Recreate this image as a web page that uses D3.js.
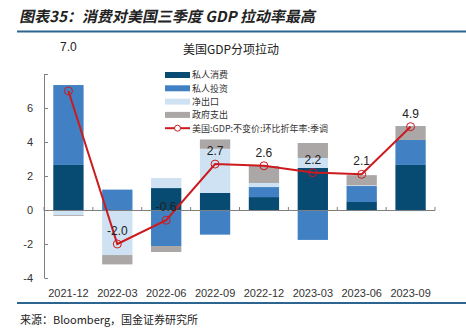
<!DOCTYPE html>
<html lang="zh">
<head>
<meta charset="UTF-8">
<title>美国GDP分项拉动</title>
<script src="https://d3js.org/d3.v7.min.js"></script>
<style>
  body { margin: 0; background: #fff; }
  text { font-family: "Liberation Sans", Arial, sans-serif; }
  .cjk { font-family: "Noto Sans CJK SC", sans-serif; }
</style>
</head>
<body>
<svg width="466" height="328"></svg>
<script>
// quarters and contribution of each component (pp, SAAR)
const quarters = ["2021-12", "2022-03", "2022-06", "2022-09", "2022-12", "2023-03", "2023-06", "2023-09"];
const consumption = [2.65, 0, 1.29, 1.0, 0.76, 2.47, 0.47, 2.65];
const investment = [4.7, 1.2, -2.12, -1.45, 0.59, -1.76, 0.94, 1.47];
const netExports = [-0.3, -2.65, 0.59, 2.6, 0.24, 0.59, 0.04, -0.08];
const government = [-0.05, -0.55, -0.35, 0.55, 1.0, 0.88, 0.6, 0.82];
const gdp = [7.0, -2.0, -0.6, 2.7, 2.6, 2.2, 2.1, 4.9];
const yTicks = [-4, -2, 0, 2, 4, 6, 8];

const seriesNames = ["私人消费", "私人投资", "净出口", "政府支出"];
const colors = ["#074a72", "#4180c2", "#cfe2f3", "#aba7a7"];
const lineColor = "#cc1a1f";

const svg = d3.select("svg");

// header
svg.append("text")
  .attr("class", "cjk")
  .attr("x", 20).attr("y", 22)
  .attr("font-size", 15).attr("font-weight", "bold")
  .attr("fill", "#222")
  .attr("transform", "skewX(-12) translate(4,0)")
  .text("图表35：消费对美国三季度 GDP 拉动率最高");
svg.append("line")
  .attr("x1", 17).attr("x2", 466).attr("y1", 31.5).attr("y2", 31.5)
  .attr("stroke", "#2b6590").attr("stroke-width", 2);
svg.append("line")
  .attr("x1", 17).attr("x2", 466).attr("y1", 303).attr("y2", 303)
  .attr("stroke", "#2b6590").attr("stroke-width", 2);
svg.append("text")
  .attr("class", "cjk")
  .attr("x", 20).attr("y", 324)
  .attr("font-size", 11).attr("fill", "#222")
  .text("来源：Bloomberg，国金证券研究所");

// scales
const x = d3.scaleBand().domain(quarters).range([44, 435])
  .paddingInner(0.38).paddingOuter(0.19);
const y = d3.scaleLinear().domain([-4, 8]).range([278, 74]);

const rows = quarters.map((q, i) => ({
  q, c: consumption[i], inv: investment[i], ne: netExports[i], gov: government[i]
}));
const stack = d3.stack().keys(["c", "inv", "ne", "gov"]).offset(d3.stackOffsetDiverging);
const layers = stack(rows);

// bars
svg.append("g").selectAll("g")
  .data(layers)
  .join("g")
  .attr("fill", (d, i) => colors[i])
  .selectAll("rect")
  .data(d => d)
  .join("rect")
  .attr("x", d => x(d.data.q))
  .attr("width", x.bandwidth())
  .attr("y", d => y(Math.max(d[0], d[1])))
  .attr("height", d => Math.abs(y(d[0]) - y(d[1])));

// axes
const axisColor = "#7f7f7f";
svg.append("line")
  .attr("x1", 44.5).attr("x2", 44.5).attr("y1", y(8)).attr("y2", y(-4))
  .attr("stroke", axisColor);
svg.append("g").selectAll("line")
  .data(yTicks)
  .join("line")
  .attr("x1", 44.5).attr("x2", 48)
  .attr("y1", d => Math.round(y(d)) + 0.5).attr("y2", d => Math.round(y(d)) + 0.5)
  .attr("stroke", axisColor);
svg.append("g").selectAll("text")
  .data(yTicks.filter(d => d < 8))
  .join("text")
  .attr("x", 33).attr("y", d => y(d) + 4)
  .attr("text-anchor", "end").attr("font-size", 11).attr("fill", "#333")
  .text(d => d);

svg.append("line")
  .attr("x1", 44).attr("x2", 435).attr("y1", Math.round(y(0)) + 0.5).attr("y2", Math.round(y(0)) + 0.5)
  .attr("stroke", axisColor);
const step = x.step();
svg.append("g").selectAll("line")
  .data(d3.range(quarters.length + 1))
  .join("line")
  .attr("x1", i => 44 + i * step).attr("x2", i => 44 + i * step)
  .attr("y1", Math.round(y(0)) + 0.5).attr("y2", Math.round(y(0)) - 3)
  .attr("stroke", axisColor);
svg.append("g").selectAll("text")
  .data(quarters)
  .join("text")
  .attr("x", d => x(d) + x.bandwidth() / 2).attr("y", 297)
  .attr("text-anchor", "middle").attr("font-size", 11).attr("fill", "#333")
  .text(d => d);

// GDP line
const pts = quarters.map((q, i) => [x(q) + x.bandwidth() / 2, y(gdp[i])]);
svg.append("path")
  .attr("d", d3.line()(pts))
  .attr("fill", "none").attr("stroke", lineColor).attr("stroke-width", 2);
svg.append("g").selectAll("circle")
  .data(pts)
  .join("circle")
  .attr("cx", d => d[0]).attr("cy", d => d[1]).attr("r", 4)
  .attr("fill", "none").attr("stroke", lineColor).attr("stroke-width", 1);
svg.append("g").selectAll("text")
  .data(gdp)
  .join("text")
  .attr("x", (d, i) => pts[i][0])
  .attr("y", (d, i) => pts[i][1] - (i === 0 ? 40 : 9))
  .attr("text-anchor", "middle").attr("font-size", 12).attr("fill", "#222")
  .text(d => d.toFixed(1));

// chart title
svg.append("text")
  .attr("class", "cjk")
  .attr("x", 231).attr("y", 54)
  .attr("text-anchor", "middle").attr("font-size", 12).attr("fill", "#222")
  .text("美国GDP分项拉动");

// legend
const rowGap = 13.3;
const legend = svg.append("g").attr("transform", "translate(165,75)");
seriesNames.forEach((name, i) => {
  const g = legend.append("g").attr("transform", `translate(0,${i * rowGap})`);
  g.append("rect").attr("x", 0).attr("y", -3).attr("width", 25).attr("height", 6).attr("fill", colors[i]);
  g.append("text").attr("class", "cjk").attr("x", 27).attr("y", 3.3)
    .attr("font-size", 9).attr("fill", "#333").text(name);
});
const lg = legend.append("g").attr("transform", `translate(0,${4 * rowGap})`);
lg.append("line").attr("x1", 0).attr("x2", 25).attr("y1", 0).attr("y2", 0)
  .attr("stroke", lineColor).attr("stroke-width", 2);
lg.append("circle").attr("cx", 12.5).attr("cy", 0).attr("r", 3)
  .attr("fill", "#fff").attr("stroke", lineColor);
lg.append("text").attr("class", "cjk").attr("x", 27).attr("y", 3.3)
  .attr("font-size", 9).attr("fill", "#333").text("美国:GDP:不变价:环比折年率:季调");
</script>
</body>
</html>
